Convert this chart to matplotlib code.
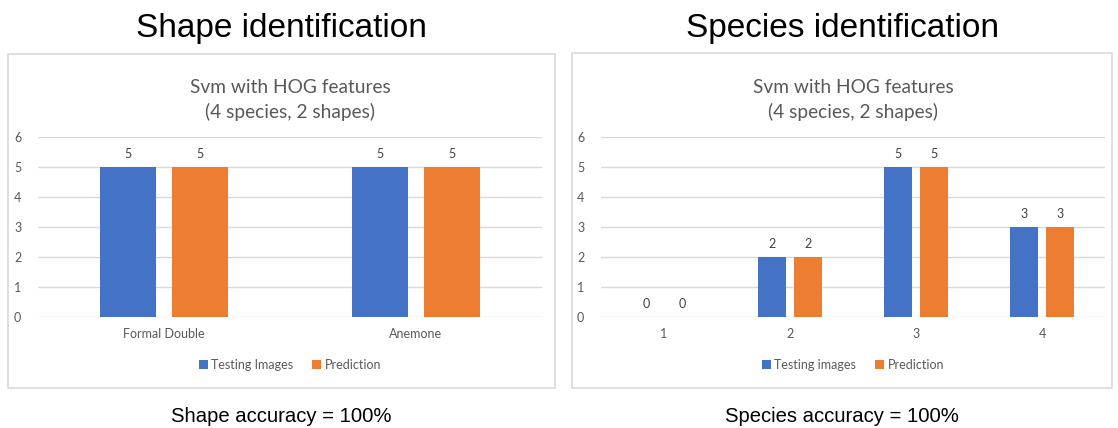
import matplotlib.pyplot as plt
from matplotlib.patches import Rectangle
import numpy as np

# counts per class for the two classifiers
shape_labels = ["Formal Double", "Anemone"]
shape_testing = [5, 5]
shape_prediction = [5, 5]

species_labels = ["1", "2", "3", "4"]
species_testing = [0, 2, 5, 3]
species_prediction = [0, 2, 5, 3]

BLUE = "#4472C4"
ORANGE = "#ED7D31"
GREY = "#595959"
GRID = "#D9D9D9"

W, H = 1118, 428


def fx(px):
    return px / W


def fy(py):
    return 1 - py / H


def panel(fig, box, ax_rect, labels, testing, prediction, legend_names, heading, caption):
    # outer chart border
    bx0, by0, bx1, by1 = box
    fig.patches.append(Rectangle((fx(bx0), fy(by1)), fx(bx1 - bx0), (by1 - by0) / H,
                                 transform=fig.transFigure, fill=False,
                                 edgecolor="#D9D9D9", linewidth=1.2))
    cx = (bx0 + bx1) / 2
    fig.text(fx(cx), fy(37), heading, ha="center", va="baseline",
             fontsize=24, family="Liberation Sans", color="black")
    fig.text(fx(cx), fy(422), caption, ha="center", va="baseline",
             fontsize=14.6, family="Liberation Sans", color="black")

    x0, x1, ytop, ybot = ax_rect
    ax = fig.add_axes([fx(x0), fy(ybot), fx(x1 - x0), (ybot - ytop) / H])
    n = len(labels)
    x = np.arange(n)
    w = 0.222
    off = 0.143
    b1 = ax.bar(x - off, testing, w, color=BLUE, label=legend_names[0], zorder=3)
    b2 = ax.bar(x + off, prediction, w, color=ORANGE, label=legend_names[1], zorder=3)
    for bars in (b1, b2):
        ax.bar_label(bars, padding=5, fontsize=9, color="#404040", family="Lato")
    ax.set_xlim(-0.5, n - 0.5)
    ax.set_ylim(0, 6)
    ax.set_yticks(range(7))
    ax.set_xticks(x)
    ax.set_xticklabels(labels)
    ax.grid(axis="y", color=GRID, linewidth=1, zorder=0)
    for s in ax.spines.values():
        s.set_visible(False)
    ax.tick_params(length=0, labelsize=9, colors=GREY, pad=8)
    ax.tick_params(axis="y", pad=12)
    for t in ax.get_xticklabels() + ax.get_yticklabels():
        t.set_family("Lato")
    ax.set_title("Svm with HOG features\n(4 species, 2 shapes)", fontsize=13.8,
                 color=GREY, family="Lato", pad=14, linespacing=1.4)
    ax.legend(loc="center", bbox_to_anchor=((x0 + x1) / 2 / W, fy(365)),
              bbox_transform=fig.transFigure, ncol=2, frameon=False,
              handlelength=0.7, handleheight=0.7, handletextpad=0.3,
              columnspacing=1.5, prop={"family": "Lato", "size": 9},
              labelcolor=GREY)
    return ax


fig = plt.figure(figsize=(W / 100, H / 100), dpi=100)

panel(fig, (8, 54, 555, 388), (38, 542, 137, 317), shape_labels,
      shape_testing, shape_prediction, ["Testing Images", "Prediction"],
      "Shape identification", "Shape accuracy = 100%")
panel(fig, (572, 53, 1112, 388), (601, 1105, 137, 317), species_labels,
      species_testing, species_prediction, ["Testing images", "Prediction"],
      "Species identification", "Species accuracy = 100%")

fig.savefig("out.png", dpi=100)
